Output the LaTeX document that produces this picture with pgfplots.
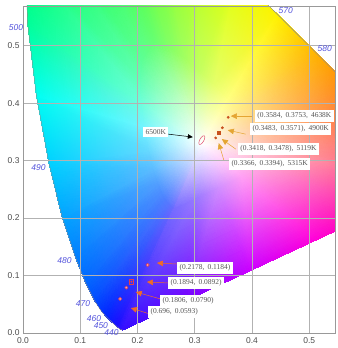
\documentclass[border=0pt]{standalone}
\usepackage{pgfplots}
\pgfplotsset{compat=1.18}
\usepackage{fontspec}
\setmainfont{Liberation Sans}
\newfontfamily\lblfont{Liberation Serif}
\usetikzlibrary{arrows.meta}

\definecolor{wlblue}{RGB}{84,84,220}
\definecolor{lbltext}{RGB}{85,85,85}
\definecolor{arrowred}{RGB}{240,106,40}
\definecolor{arrowgold}{RGB}{228,165,50}
\definecolor{ptbrown}{RGB}{200,80,30}
\definecolor{ptred}{RGB}{232,60,70}
\definecolor{ellred}{RGB}{224,80,112}

\tikzset{
  lbl/.style={fill=white, inner xsep=2.5bp, inner ysep=2.8bp, anchor=west, text=lbltext,
    font=\lblfont\fontsize{7.5}{8}\selectfont},
  wl/.style={text=wlblue, inner sep=0pt, font=\itshape\fontsize{8.5}{9}\selectfont},
  callout/.style={line width=0.5bp, -{Triangle[length=6bp,width=5.5bp]}},
}

\begin{document}
\begin{tikzpicture}
\begin{axis}[
  scale only axis,
  width=312bp, height=327bp,
  xmin=0, xmax=0.545, ymin=0, ymax=0.569,
  xtick={0,0.1,0.2,0.3,0.4,0.5},
  ytick={0,0.1,0.2,0.3,0.4,0.5},
  grid=major,
  grid style={black!30, line width=0.5bp},
  axis line style={black!40},
  tick style={draw=none},
  /pgf/number format/assume math mode=true,
  /pgf/number format/.cd, fixed, fixed zerofill, precision=1, /tikz/.cd,
  ticklabel style={font=\fontsize{8.5}{10}\selectfont, text=black!70},
  xticklabel style={yshift=-1.5bp},
  set layers=axis on top,
]

% chromaticity gamut fill: vertex 0 = white point,
% 1-27 = inner ring, 28-54 = spectral locus and purple line
\addplot[patch, shader=interp, mesh/color input=explicit,
  table/row sep=crcr,
  patch table={%
0 1 2\\ 1 2 29\\ 1 29 28\\
0 2 3\\ 2 3 30\\ 2 30 29\\
0 3 4\\ 3 4 31\\ 3 31 30\\
0 4 5\\ 4 5 32\\ 4 32 31\\
0 5 6\\ 5 6 33\\ 5 33 32\\
0 6 7\\ 6 7 34\\ 6 34 33\\
0 7 8\\ 7 8 35\\ 7 35 34\\
0 8 9\\ 8 9 36\\ 8 36 35\\
0 9 10\\ 9 10 37\\ 9 37 36\\
0 10 11\\ 10 11 38\\ 10 38 37\\
0 11 12\\ 11 12 39\\ 11 39 38\\
0 12 13\\ 12 13 40\\ 12 40 39\\
0 13 14\\ 13 14 41\\ 13 41 40\\
0 14 15\\ 14 15 42\\ 14 42 41\\
0 15 16\\ 15 16 43\\ 15 43 42\\
0 16 17\\ 16 17 44\\ 16 44 43\\
0 17 18\\ 17 18 45\\ 17 45 44\\
0 18 19\\ 18 19 46\\ 18 46 45\\
0 19 20\\ 19 20 47\\ 19 47 46\\
0 20 21\\ 20 21 48\\ 20 48 47\\
0 21 22\\ 21 22 49\\ 21 49 48\\
0 22 23\\ 22 23 50\\ 22 50 49\\
0 23 24\\ 23 24 51\\ 23 51 50\\
0 24 25\\ 24 25 52\\ 24 52 51\\
0 25 26\\ 25 26 53\\ 25 53 52\\
0 26 27\\ 26 27 54\\ 26 54 53\\
0 27 1\\ 27 1 28\\ 27 28 54\\
}] table[meta=c, row sep=crcr] {
x y c\\
0.3127 0.3290 rgb=1,1,1\\
0.2642 0.2156 rgb=0.46,0.42,1\\
0.2608 0.2177 rgb=0.4,0.42,1\\
0.2537 0.2242 rgb=0.34,0.46,1\\
0.2467 0.2341 rgb=0.3,0.5,1\\
0.2416 0.2442 rgb=0.3,0.55,1\\
0.2352 0.2603 rgb=0.32,0.62,1\\
0.2273 0.2841 rgb=0.36,0.73,1\\
0.2192 0.3171 rgb=0.4,0.85,1\\
0.2115 0.3583 rgb=0.45,0.96,1\\
0.2061 0.4023 rgb=0.42,1,0.85\\
0.2046 0.4430 rgb=0.38,1,0.7\\
0.2081 0.4764 rgb=0.36,1,0.58\\
0.2293 0.5057 rgb=0.4,1,0.45\\
0.2574 0.4959 rgb=0.52,1,0.4\\
0.2836 0.4779 rgb=0.64,1,0.38\\
0.3088 0.4562 rgb=0.77,1,0.38\\
0.3338 0.4324 rgb=0.9,1,0.42\\
0.3587 0.4080 rgb=1,1,0.5\\
0.3826 0.3842 rgb=1,0.9,0.55\\
0.4046 0.3623 rgb=1,0.82,0.58\\
0.4227 0.3442 rgb=1,0.76,0.62\\
0.4453 0.3218 rgb=1,0.7,0.66\\
0.4604 0.3067 rgb=1,0.66,0.72\\
0.4212 0.2885 rgb=1,0.64,0.84\\
0.3819 0.2703 rgb=1,0.62,0.96\\
0.3427 0.2520 rgb=0.82,0.56,1\\
0.3034 0.2338 rgb=0.6,0.47,1\\
0.1741 0.0050 rgb=0.2,0.05,1\\
0.1644 0.0109 rgb=0.1,0.05,1\\
0.1440 0.0297 rgb=0,0.15,1\\
0.1241 0.0578 rgb=0,0.3,1\\
0.1096 0.0868 rgb=0,0.4,1\\
0.0913 0.1327 rgb=0,0.5,1\\
0.0687 0.2007 rgb=0,0.64,1\\
0.0454 0.2950 rgb=0,0.82,1\\
0.0235 0.4127 rgb=0,1,0.95\\
0.0082 0.5384 rgb=0,1,0.6\\
0.0039 0.6548 rgb=0,1,0.4\\
0.0139 0.7502 rgb=0,1,0.25\\
0.0743 0.8338 rgb=0.1,1,0.1\\
0.1547 0.8059 rgb=0.3,1,0\\
0.2296 0.7543 rgb=0.5,1,0\\
0.3016 0.6923 rgb=0.7,1,0\\
0.3731 0.6245 rgb=0.88,1,0\\
0.4441 0.5547 rgb=1,0.95,0\\
0.5125 0.4866 rgb=1,0.7,0\\
0.5752 0.4242 rgb=1,0.5,0.05\\
0.6270 0.3725 rgb=1,0.35,0.15\\
0.6915 0.3083 rgb=1,0.2,0.3\\
0.7347 0.2653 rgb=1,0.1,0.35\\
0.6226 0.2132 rgb=1,0.05,0.6\\
0.5105 0.1612 rgb=1,0,0.85\\
0.3983 0.1091 rgb=0.8,0,1\\
0.2862 0.0571 rgb=0.45,0,1\\
};

% spectral locus outline
\addplot[black!45, line width=0.4bp, mark=none] coordinates {
 (0.1741,0.0050) (0.1689,0.0069) (0.1644,0.0109) (0.1566,0.0177) (0.1440,0.0297)
 (0.1355,0.0399) (0.1241,0.0578) (0.1096,0.0868) (0.0913,0.1327) (0.0687,0.2007)
 (0.0454,0.2950) (0.0235,0.4127) (0.0082,0.5384) (0.0039,0.6548) (0.0139,0.7502)
 (0.0743,0.8338) (0.1547,0.8059) (0.2296,0.7543) (0.3016,0.6923) (0.3731,0.6245)
 (0.4441,0.5547) (0.5125,0.4866) (0.5752,0.4242) (0.6270,0.3725) (0.6915,0.3083)
 (0.7347,0.2653)};

% measured points, blue group
\addplot[on layer=axis foreground, only marks, mark=*, mark size=1.6bp,
  mark options={draw=ptred, fill=ptred!45, line width=0.5bp}]
  coordinates {(0.2178,0.1184) (0.1806,0.0790) (0.1696,0.0593)};
\addplot[on layer=axis foreground, only marks, mark=square, mark size=2.2bp,
  mark options={draw=ptred, line width=0.7bp}]
  coordinates {(0.1894,0.0892)};
\addplot[on layer=axis foreground, only marks, mark=*, mark size=0.8bp,
  mark options={draw=ptred, fill=ptred}]
  coordinates {(0.1894,0.0892)};

% measured points, white group
\addplot[on layer=axis foreground, only marks, mark=*, mark size=1.2bp,
  mark options={draw=ptbrown, fill=ptbrown}]
  coordinates {(0.3584,0.3753) (0.3483,0.3571) (0.3366,0.3394)};
\addplot[on layer=axis foreground, only marks, mark=square*, mark size=1.5bp,
  mark options={draw=ptbrown, fill=ptbrown}]
  coordinates {(0.3418,0.3478)};

% D65 tolerance ellipse
\addplot[on layer=axis foreground, ellred, line width=0.5bp, smooth cycle, mark=none]
  coordinates {(0.31675,0.34323) (0.31465,0.34310) (0.31195,0.34098) (0.30937,0.33750)
   (0.30760,0.33345) (0.30712,0.33005) (0.30805,0.32817) (0.31015,0.32830)
   (0.31285,0.33042) (0.31543,0.33390) (0.31720,0.33795) (0.31768,0.34135)};

\begin{pgfonlayer}{axis foreground}
% callout arrows
\draw[arrowred, callout] (axis cs:0.2705,0.1200) -- (axis cs:0.2340,0.1217);
\draw[arrowred, callout] (axis cs:0.2565,0.0870) -- (axis cs:0.2164,0.0887);
\draw[arrowred, callout] (axis cs:0.2408,0.0591) -- (axis cs:0.1970,0.0713);
\draw[arrowred, callout] (axis cs:0.2216,0.0330) -- (axis cs:0.1885,0.0435);

\draw[arrowgold, callout] (axis cs:0.3997,0.3774) -- (axis cs:0.3630,0.3774);
\draw[arrowgold, callout] (axis cs:0.3890,0.3460) -- (axis cs:0.3578,0.3530);
\draw[arrowgold, callout] (axis cs:0.3717,0.3200) -- (axis cs:0.3473,0.3374);
\draw[arrowgold, callout] (axis cs:0.3508,0.3009) -- (axis cs:0.3420,0.3304);

\draw[black, line width=0.5bp, -{Triangle[length=5bp,width=4.5bp]}]
  (axis cs:0.2531,0.3461) -- (axis cs:0.2967,0.3409);

% callout labels
\node[lbl] at (axis cs:0.4049,0.3774) {(0.3584,\, 0.3753,\, 4638K};
\node[lbl] at (axis cs:0.3962,0.3548) {(0.3483,\, 0.3571),\, 4900K};
\node[lbl] at (axis cs:0.3752,0.3200) {(0.3418,\, 0.3478),\, 5119K};
\node[lbl] at (axis cs:0.3595,0.2939) {(0.3366,\, 0.3394),\, 5315K};
\node[lbl] at (axis cs:0.2094,0.3496) {6500K};
\node[lbl] at (axis cs:0.2688,0.1130) {(0.2178,\, 0.1184)};
\node[lbl] at (axis cs:0.2531,0.0870) {(0.1894,\, 0.0892)};
\node[lbl] at (axis cs:0.2391,0.0557) {(0.1806,\, 0.0790)};
\node[lbl] at (axis cs:0.2182,0.0365) {(0.696,\, 0.0593)};

% wavelength marks on the spectral locus
\node[wl] at (axis cs:-0.0122,0.5320) {500};
\node[wl] at (axis cs:0.0270,0.2870) {490};
\node[wl] at (axis cs:0.0724,0.1252) {480};
\node[wl] at (axis cs:0.1047,0.0504) {470};
\node[wl] at (axis cs:0.1240,0.0250) {460};
\node[wl] at (axis cs:0.1360,0.0125) {450};
\node[wl] at (axis cs:0.1545,0.0000) {440};
\node[wl] at (axis cs:0.4590,0.5617) {570};
\node[wl] at (axis cs:0.5270,0.4957) {580};
\end{pgfonlayer}

\node[text=black!70, font=\fontsize{8}{9}\selectfont] at (rel axis cs:-0.064,0.52) {y};
\end{axis}
\pgfresetboundingbox
\path (current axis.south west) ++(-23bp,-15bp) rectangle ([xshift=3bp,yshift=6bp]current axis.north east);
\end{tikzpicture}
\end{document}
